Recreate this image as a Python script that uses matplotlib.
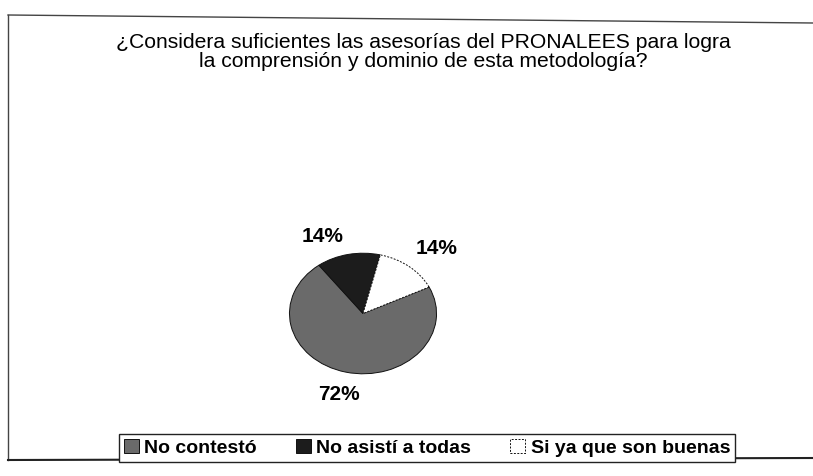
import matplotlib
matplotlib.use('Agg')
import matplotlib.pyplot as plt
from matplotlib.lines import Line2D

plt.rcParams['font.family'] = ['Liberation Sans', 'DejaVu Sans']

# data
categories = ['No contestó', 'No asistí a todas', 'Si ya que son buenas']
values = [72, 14, 14]
colors = ['#6a6a6a', '#1c1c1c', '#ffffff']
title = ('¿Considera suficientes las asesorías del PRONALEES para logra\n'
         'la comprensión y dominio de esta metodología?')

W, H = 813, 476
fig = plt.figure(figsize=(W / 100, H / 100), dpi=100)

# chart frame (right side runs off the page)
fig.add_artist(Line2D([8 / W, 1], [1 - 15 / H, 1 - 23 / H], color='#444444', lw=1))
fig.add_artist(Line2D([8 / W, 8 / W], [1 - 15 / H, 1 - 460 / H], color='#444444', lw=1))
fig.add_artist(Line2D([8 / W, 1], [1 - 460 / H, 1 - 458 / H], color='#222222', lw=1.5))

fig.text(423 / W, 1 - 33 / H, title, ha='center', va='top', fontsize=15.2,
         linespacing=1.0)

# pie is a flattened ellipse: axes box = pie extent
ax = fig.add_axes([288 / W, 1 - 375 / H, 150 / W, 123 / H])
wedges, texts, autotexts = ax.pie(
    values, colors=colors, startangle=26, counterclock=False,
    autopct='%1.0f%%', pctdistance=1.38,
    wedgeprops=dict(edgecolor='#111111', linewidth=0.7),
    textprops=dict(fontsize=15, fontweight='bold'))
wedges[2].set_linestyle((0, (2, 1.5)))
# nudge the two small-slice labels to where the original has them
x, y = autotexts[1].get_position()
autotexts[1].set_position((x - 0.27, y - 0.08))
x, y = autotexts[2].get_position()
autotexts[2].set_position((x + 0.13, y))
ax.set_xlim(-1.02, 1.02)
ax.set_ylim(-1.02, 1.02)
ax.set_aspect('auto')
ax.axis('off')

leg = fig.legend(wedges, categories, loc='center', ncol=3,
                 bbox_to_anchor=(427 / W, 1 - 448 / H),
                 prop=dict(size=14, weight='bold'),
                 handlelength=0.75, handleheight=0.75, handletextpad=0.3,
                 columnspacing=2.0, borderpad=0.25, fancybox=False,
                 framealpha=1, edgecolor='#222222')
leg.get_frame().set_linewidth(1.0)

fig.savefig('out.png', dpi=100)
